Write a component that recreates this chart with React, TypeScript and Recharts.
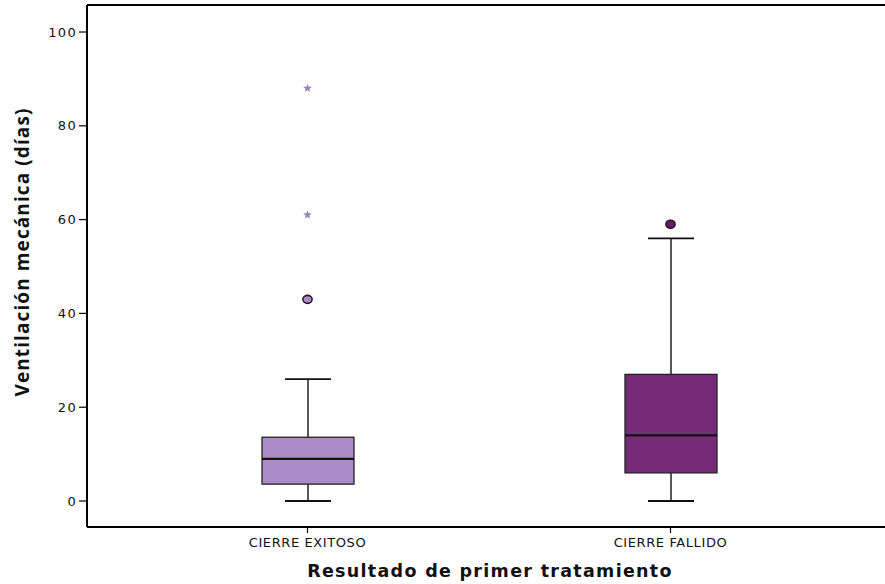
import { Bar, ComposedChart, Line, ReferenceLine, XAxis, YAxis } from "recharts";

const categories = ["CIERRE EXITOSO", "CIERRE FALLIDO"];
const mins = [0, 0];
const q1s = [3.6, 6];
const medians = [9, 14];
const q3s = [13.6, 27];
const maxs = [26, 56];
const circleOutliers = [43, 59];
const starOutliersHigh: (number | null)[] = [88, null];
const starOutliersMid: (number | null)[] = [61, null];
const yTicks = [0, 20, 40, 60, 80, 100];

const BOX_FILLS = ["#a98bc6", "#772a7a"];
const DOT_FILLS = ["#a98bc6", "#5e1d62"];
const STAR = "#9b80c2";
const Y_MIN = -5.54;
const Y_MAX = 105.76;

const data = categories.map((name, i) => ({
  name,
  range: [mins[i], maxs[i]],
  min: mins[i],
  q1: q1s[i],
  median: medians[i],
  q3: q3s[i],
  max: maxs[i],
  circle: circleOutliers[i],
  starHigh: starOutliersHigh[i],
  starMid: starOutliersMid[i],
  idx: i,
}));

// draws the whole box + whiskers inside the bar's [min, max] rectangle
function BoxShape(props: any) {
  const { x, y, width, height, payload } = props;
  const top = Math.min(y, y + height);
  const bottom = Math.max(y, y + height);
  const py = (v: number) =>
    bottom - ((v - payload.min) / (payload.max - payload.min)) * (bottom - top);
  const cx = x + width / 2;
  const capHalf = 23;
  const fill = BOX_FILLS[payload.idx];
  return (
    <g>
      <line x1={cx} x2={cx} y1={py(payload.max)} y2={py(payload.q3)} stroke="#111" strokeWidth={1.4} />
      <line x1={cx} x2={cx} y1={py(payload.q1)} y2={py(payload.min)} stroke="#111" strokeWidth={1.4} />
      <line x1={cx - capHalf} x2={cx + capHalf} y1={py(payload.max)} y2={py(payload.max)} stroke="#111" strokeWidth={1.6} />
      <line x1={cx - capHalf} x2={cx + capHalf} y1={py(payload.min)} y2={py(payload.min)} stroke="#111" strokeWidth={1.8} />
      <rect
        x={x}
        y={py(payload.q3)}
        width={width}
        height={py(payload.q1) - py(payload.q3)}
        fill={fill}
        stroke="#222"
        strokeWidth={1.3}
      />
      <line x1={x} x2={x + width} y1={py(payload.median)} y2={py(payload.median)} stroke="#111" strokeWidth={2.2} />
    </g>
  );
}

function CircleDot(props: any) {
  const { cx, cy, payload, index } = props;
  if (payload.circle == null || cy == null) return <g key={`c${index}`} />;
  return (
    <ellipse
      key={`c${index}`}
      cx={cx}
      cy={cy}
      rx={4.6}
      ry={4}
      fill={DOT_FILLS[payload.idx]}
      stroke="#2a1430"
      strokeWidth={1.6}
    />
  );
}

function starPoints(cx: number, cy: number, r: number) {
  const pts: string[] = [];
  for (let k = 0; k < 10; k++) {
    const rad = k % 2 === 0 ? r : r * 0.42;
    const a = -Math.PI / 2 + (k * Math.PI) / 5;
    pts.push(`${cx + rad * Math.cos(a)},${cy + rad * Math.sin(a)}`);
  }
  return pts.join(" ");
}

function makeStarDot(field: string) {
  return (props: any) => {
    const { cx, cy, payload, index } = props;
    if (payload[field] == null || cy == null) return <g key={`${field}${index}`} />;
    return <polygon key={`${field}${index}`} points={starPoints(cx, cy, 4.6)} fill={STAR} />;
  };
}

function XTitle(props: any) {
  const vb = props.viewBox || {};
  const cx = vb.x + vb.width / 2 + 4;
  return (
    <text
      x={cx}
      y={577}
      textAnchor="middle"
      fontFamily="DejaVu Sans"
      fontWeight={700}
      fontSize={17.5}
      letterSpacing={1.3}
      fill="#111"
    >
      Resultado de primer tratamiento
    </text>
  );
}

function YTitle() {
  return (
    <text
      x={22}
      y={252}
      transform="rotate(-90, 22, 252)"
      textAnchor="middle"
      dominantBaseline="central"
      fontFamily="Open Sans"
      fontWeight={700}
      fontSize={19}
      letterSpacing={1.1}
      fill="#111"
    >
      Ventilación mecánica (días)
    </text>
  );
}

export default function App() {
  return (
    <div style={{ position: "absolute", left: 0, top: 0, background: "#fff" }}>
      <ComposedChart width={885} height={584} data={data} margin={{ top: 5, right: 0, bottom: 0, left: 0 }}>
        <XAxis
          dataKey="name"
          height={57}
          padding={{ left: 39, right: 33 }}
          axisLine={{ stroke: "#000", strokeWidth: 2 }}
          tickLine={{ stroke: "#000", strokeWidth: 1.2 }}
          tickSize={6}
          tick={{ fontSize: 13, fill: "#111", fontFamily: "DejaVu Sans", letterSpacing: 0.6, dy: 3 }}
          label={{ content: XTitle }}
        />
        <YAxis
          type="number"
          domain={[Y_MIN, Y_MAX]}
          ticks={yTicks}
          allowDataOverflow
          width={87}
          axisLine={{ stroke: "#000", strokeWidth: 2 }}
          tickLine={{ stroke: "#000", strokeWidth: 1.2 }}
          tickSize={8}
          tick={{ fontSize: 13, fill: "#111", fontFamily: "DejaVu Sans", letterSpacing: 1.3 }}
          label={{ content: YTitle }}
        />
        <ReferenceLine y={Y_MAX} stroke="#000" strokeWidth={2} ifOverflow="extendDomain" />
        <Bar dataKey="range" barSize={92} shape={<BoxShape />} isAnimationActive={false} />
        <Line dataKey="circle" stroke="none" dot={CircleDot} activeDot={false} isAnimationActive={false} />
        <Line dataKey="starHigh" stroke="none" dot={makeStarDot("starHigh")} activeDot={false} isAnimationActive={false} />
        <Line dataKey="starMid" stroke="none" dot={makeStarDot("starMid")} activeDot={false} isAnimationActive={false} />
      </ComposedChart>
    </div>
  );
}
